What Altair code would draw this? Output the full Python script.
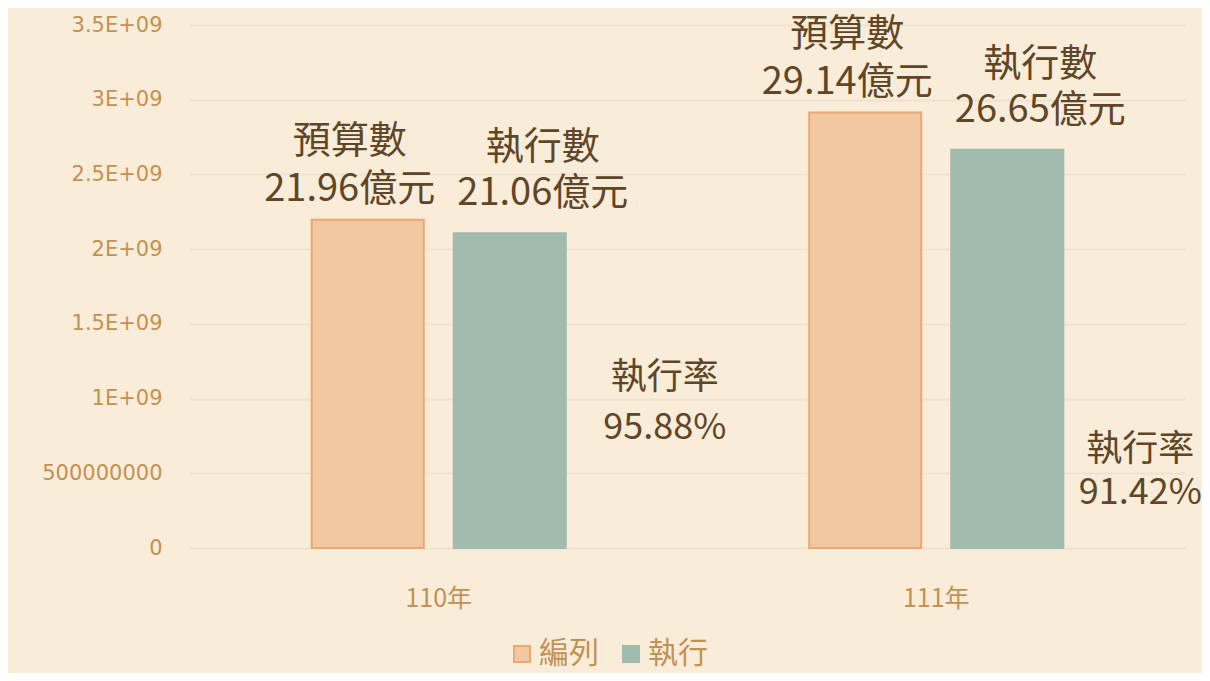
import altair as alt
import pandas as pd

# ---- data ----
years = ["110年", "111年"]
series = ["編列", "執行"]
label_names = ["預算數", "執行數"]
budget = [2.196e9, 2.914e9]
executed = [2.106e9, 2.665e9]
rates = ["95.88%", "91.42%"]
y_ticks = [0, 5e8, 1e9, 1.5e9, 2e9, 2.5e9, 3e9, 3.5e9]
y_tick_labels = ["0", "500000000", "1E+09", "1.5E+09", "2E+09", "2.5E+09", "3E+09", "3.5E+09"]

rows = []
for i, yr in enumerate(years):
    for s, lname, vals in zip(series, label_names, [budget, executed]):
        v = vals[i]
        rows.append({"year": yr, "series": s, "value": v,
                     "label": f"{lname}\n{v/1e8:.2f}億元"})
df = pd.DataFrame(rows)
rate_df = pd.DataFrame({"year": years, "label": [f"執行率\n{r}" for r in rates]})

# ---- styles ----
BG = "#F9ECD8"
TAN = "#C39152"
BROWN = "#5F4628"
FONT = "Noto Sans CJK TC"
AXFONT = "DejaVu Sans"
fills = ["#F2C8A3", "#A1BBAF"]
strokes = ["#EBA872", "#A1BBAF"]

label_js = "[" + ",".join(f"'{t}'" for t in y_tick_labels) + "]"

x_enc = alt.X("year:N", sort=years,
              scale=alt.Scale(paddingInner=0, paddingOuter=0),
              axis=alt.Axis(title=None, labelAngle=0, domain=False, ticks=False,
                            labelFontSize=25, labelColor=TAN, labelFont=FONT,
                            labelPadding=38))
xo_enc = alt.XOffset("series:N", sort=series,
                     scale=alt.Scale(paddingInner=0.211, paddingOuter=0.857))
y_enc = alt.Y("value:Q",
              scale=alt.Scale(domain=[0, 3.5e9], nice=False),
              axis=alt.Axis(title=None, values=y_ticks,
                            labelExpr=f"{label_js}[round(datum.value/5e8)]",
                            domain=False, ticks=False, labelFontSize=21,
                            labelColor=TAN, labelFont=AXFONT, labelPadding=28,
                            gridColor="#EFE2CF", gridWidth=2))

leg = alt.Legend(title=None, orient="none", direction="horizontal",
                 legendX=317, legendY=614, symbolType="square", symbolSize=256,
                 symbolStrokeWidth=2, labelFontSize=30, labelColor=TAN,
                 labelFont=FONT, labelOffset=2, columnPadding=17)

bars = alt.Chart(df).mark_bar(strokeWidth=2).encode(
    x=x_enc, xOffset=xo_enc, y=y_enc,
    fill=alt.Fill("series:N", sort=series,
                  scale=alt.Scale(domain=series, range=fills), legend=leg),
    stroke=alt.Stroke("series:N", sort=series,
                      scale=alt.Scale(domain=series, range=strokes), legend=leg),
)

label_budget = alt.Chart(df).transform_filter(alt.datum.series == series[0]).mark_text(
    lineBreak="\n", baseline="middle", align="center", dx=-18, dy=-78,
    fontSize=38, font=FONT, color=BROWN, lineHeight=48,
).encode(x=x_enc, xOffset=xo_enc, y=y_enc, text="label:N")

label_exec = alt.Chart(df).transform_filter(alt.datum.series == series[1]).mark_text(
    lineBreak="\n", baseline="middle", align="center", dx=33, dy=-85,
    fontSize=38, font=FONT, color=BROWN, lineHeight=46,
).encode(x=x_enc, xOffset=xo_enc, y=y_enc, text="label:N")

rate1 = alt.Chart(rate_df).transform_filter(alt.datum.year == years[0]).mark_text(
    lineBreak="\n", baseline="middle", align="center", dx=226,
    fontSize=36, font=FONT, color=BROWN, lineHeight=50,
).encode(x=x_enc, y=alt.datum(1.138e9), text="label:N")

rate2 = alt.Chart(rate_df).transform_filter(alt.datum.year == years[1]).mark_text(
    lineBreak="\n", baseline="middle", align="center", dx=204,
    fontSize=36, font=FONT, color=BROWN, lineHeight=43,
).encode(x=x_enc, y=alt.datum(0.656e9), text="label:N")

chart = alt.layer(bars, label_budget, label_exec, rate1, rate2).properties(
    width=995, height=523,
    autosize=alt.AutoSizeParams(type="none"),
    padding={"left": 182, "top": 17, "right": 17, "bottom": 125},
    background=BG,
).configure_view(stroke=None)

chart.save("out.html", embed_options={"renderer": "svg", "actions": False})
